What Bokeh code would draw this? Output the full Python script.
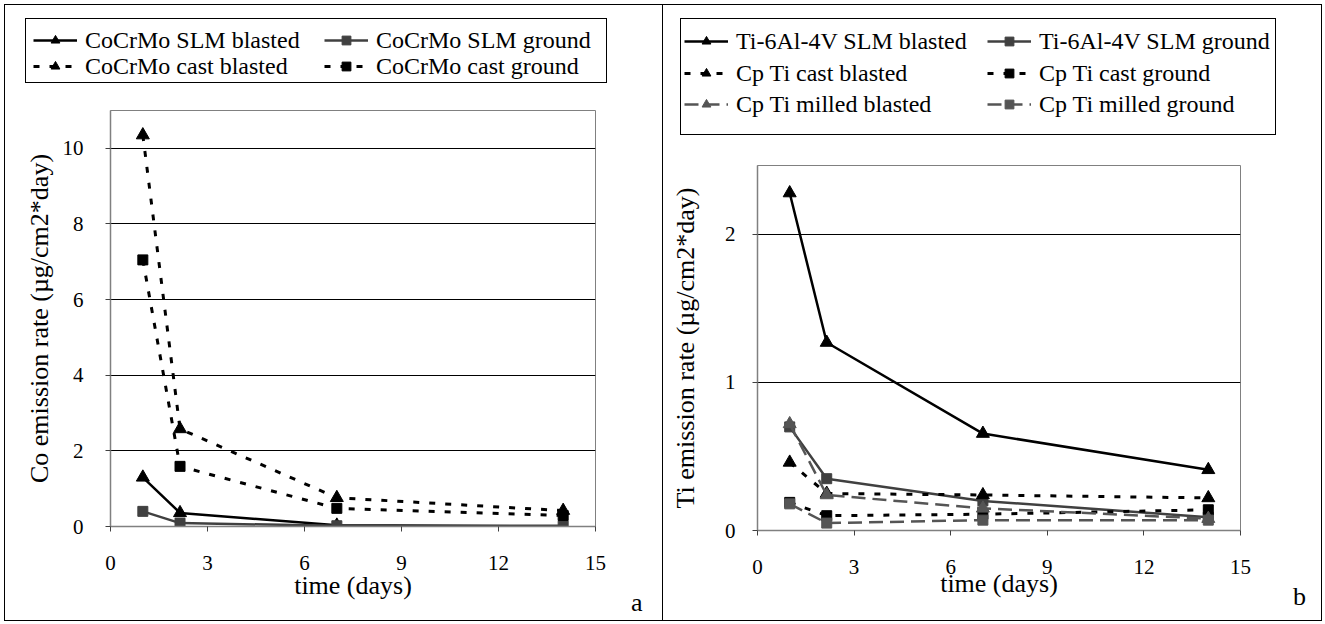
from bokeh.plotting import figure
from bokeh.models import Legend, LegendItem, FixedTicker, Range1d, Div
from bokeh.embed import file_html
from bokeh.resources import INLINE

# ---------------- data ----------------
days = [1, 2.15, 7, 14]
x_ticks = [0, 3, 6, 9, 12, 15]

# panel a: Co emission rate (µg/cm2*day)
co_slm_blasted = [1.30, 0.36, 0.03, 0.01]
co_slm_ground = [0.40, 0.09, 0.02, 0.01]
co_cast_blasted = [10.35, 2.58, 0.76, 0.42]
co_cast_ground = [7.05, 1.59, 0.48, 0.29]
co_ticks = [0, 2, 4, 6, 8, 10]

# panel b: Ti emission rate (µg/cm2*day)
ti_slm_blasted = [2.28, 1.27, 0.655, 0.41]
ti_slm_ground = [0.70, 0.35, 0.20, 0.09]
cp_cast_blasted = [0.46, 0.25, 0.24, 0.22]
cp_cast_ground = [0.19, 0.10, 0.11, 0.14]
cp_milled_blasted = [0.72, 0.24, 0.15, 0.08]
cp_milled_ground = [0.18, 0.05, 0.07, 0.07]
ti_ticks = [0, 1, 2]

FONT = "Liberation Serif"
BLACK = "#000000"
DARK = "#404040"
GRAY = "#555555"
DOT = "6 10"
DASH = "14 7"


def pos(left, top, width, height, extra=None):
    s = {"position": "absolute", "left": f"{left}px", "top": f"{top}px",
         "width": f"{width}px", "height": f"{height}px", "margin": "0px"}
    if extra:
        s.update(extra)
    return s


def frame_box(left, top, width, height):
    # thin black rectangle drawn over a region (panel / key borders)
    return Div(text="", width=width, height=height, margin=0,
               styles=pos(left, top, width, height,
                          {"border": "1px solid black", "box-sizing": "border-box",
                           "pointer-events": "none", "background": "transparent"}))


def base_fig(left, top, width, height, yr, yticks, ylabel, mbl, mbr, mbt, mbb,
             ystand, ylabstand, xstand, xlabstand):
    p = figure(width=width, height=height, x_range=Range1d(0, 15), y_range=Range1d(*yr),
               output_backend="svg", toolbar_location=None, title=None,
               min_border_left=mbl, min_border_right=mbr,
               min_border_top=mbt, min_border_bottom=mbb,
               background_fill_color="white", border_fill_color="white")
    p.styles = pos(left, top, width, height)
    p.outline_line_color = "#808080"
    p.outline_line_width = 1
    p.xgrid.visible = False
    p.ygrid.ticker = FixedTicker(ticks=yticks)
    p.ygrid.grid_line_color = "black"
    p.ygrid.grid_line_width = 1
    p.xaxis.ticker = FixedTicker(ticks=x_ticks)
    p.yaxis.ticker = FixedTicker(ticks=yticks)
    for ax in (p.xaxis, p.yaxis):
        ax.axis_line_color = "#808080"
        ax.axis_line_width = 1.5
        ax.major_tick_line_color = "#404040"
        ax.major_tick_out = 5
        ax.major_tick_in = 0
        ax.minor_tick_line_color = None
        ax.major_label_text_font = FONT
        ax.major_label_text_font_size = "21px"
        ax.major_label_text_color = "black"
        ax.axis_label_text_font = FONT
        ax.axis_label_text_font_size = "26px"
        ax.axis_label_text_font_style = "normal"
        ax.axis_label_text_color = "black"
    p.yaxis.axis_label = ylabel
    p.xaxis.axis_label = "time (days)"
    p.yaxis.major_label_standoff = ystand
    p.yaxis.axis_label_standoff = ylabstand
    p.xaxis.major_label_standoff = xstand
    p.xaxis.axis_label_standoff = xlabstand
    return p


def series(p, x, y, color, dash, marker, size, visible=True):
    lw = 3 if dash == DOT else 2.5
    ln = p.line(x, y, line_color=color, line_width=lw, line_dash=dash, visible=visible)
    mk = p.scatter(x, y, marker=marker, size=size, fill_color=color, line_color=color,
                   visible=visible)
    return [ln, mk]


def legend_fig(left, top, width, height, entries):
    """entries: (label, y-values, color, dash, marker, vx, vy)"""
    lf = figure(width=width, height=height, x_range=Range1d(0, 15), y_range=Range1d(0, 11),
                output_backend="svg", toolbar_location=None, title=None,
                x_axis_type=None, y_axis_type=None, min_border=0,
                background_fill_color="white", border_fill_color="white")
    lf.outline_line_color = None
    lf.grid.visible = False
    lf.styles = pos(left, top, width, height)
    for label, yv, color, dash, marker, vx, vy in entries:
        # legend samples only: the renderers are hidden in this key panel
        rs = series(lf, days, yv, color, dash, marker, 10, visible=False)
        lg = Legend(items=[LegendItem(label=label, renderers=rs)], location=(vx, vy),
                    label_text_font=FONT, label_text_font_size="24px", label_text_color="black",
                    glyph_width=44, glyph_height=22, label_height=28, label_width=20,
                    label_standoff=8, spacing=0, padding=0, margin=0,
                    inactive_fill_alpha=0.0,
                    border_line_color=None, background_fill_alpha=0.0)
        lf.add_layout(lg, "center")
    return lf


def letter(text, left, top):
    return Div(text=text, width=20, height=30, margin=0,
               styles=pos(left, top, 20, 30,
                          {"font-family": FONT, "font-size": "26px",
                           "line-height": "30px", "color": "black"}))


# ---------------- panel a ----------------
pa = base_fig(4, 4, 659, 617, (0, 11.0), co_ticks, "Co emission rate (µg/cm2*day)",
              106, 68, 106, 95, 22, 6, 24, -2)
series(pa, days, co_slm_blasted, BLACK, "solid", "triangle", 13)
series(pa, days, co_slm_ground, DARK, "solid", "square", 10)
series(pa, days, co_cast_blasted, BLACK, DOT, "triangle", 13)
series(pa, days, co_cast_ground, BLACK, DOT, "square", 10)

la = legend_fig(25, 18, 582, 65, [
    ("CoCrMo SLM blasted", co_slm_blasted, BLACK, "solid", "triangle", 8, 29),
    ("CoCrMo cast blasted", co_cast_blasted, BLACK, DOT, "triangle", 8, 3),
    ("CoCrMo SLM ground", co_slm_ground, DARK, "solid", "square", 299, 29),
    ("CoCrMo cast ground", co_cast_ground, BLACK, DOT, "square", 299, 3),
])

# ---------------- panel b ----------------
pb = base_fig(662, 4, 660, 617, (0, 2.466), ti_ticks, "Ti emission rate (µg/cm2*day)",
              95, 82, 161, 91, 17, 22, 24, -8)
series(pb, days, ti_slm_blasted, BLACK, "solid", "triangle", 13)
series(pb, days, ti_slm_ground, DARK, "solid", "square", 10)
series(pb, days, cp_cast_blasted, BLACK, DOT, "triangle", 13)
series(pb, days, cp_cast_ground, BLACK, DOT, "square", 10)
series(pb, days, cp_milled_blasted, GRAY, DASH, "triangle", 13)
series(pb, days, cp_milled_ground, GRAY, DASH, "square", 10)

lb = legend_fig(680, 18, 596, 117, [
    ("Ti-6Al-4V SLM blasted", ti_slm_blasted, BLACK, "solid", "triangle", 4, 80),
    ("Cp Ti cast blasted", cp_cast_blasted, BLACK, DOT, "triangle", 4, 48),
    ("Cp Ti milled blasted", cp_milled_blasted, GRAY, DASH, "triangle", 4, 17),
    ("Ti-6Al-4V SLM ground", ti_slm_ground, DARK, "solid", "square", 307, 80),
    ("Cp Ti cast ground", cp_cast_ground, BLACK, DOT, "square", 307, 48),
    ("Cp Ti milled ground", cp_milled_ground, GRAY, DASH, "square", 307, 17),
])

ta = letter("a", 631, 588)
tb = letter("b", 1293, 582)

boxes = [frame_box(4, 4, 659, 617), frame_box(662, 4, 660, 617),
         frame_box(25, 18, 582, 65), frame_box(680, 18, 596, 117)]

open("out.html", "w").write(file_html([pa, pb, la, lb, ta, tb] + boxes, INLINE))
